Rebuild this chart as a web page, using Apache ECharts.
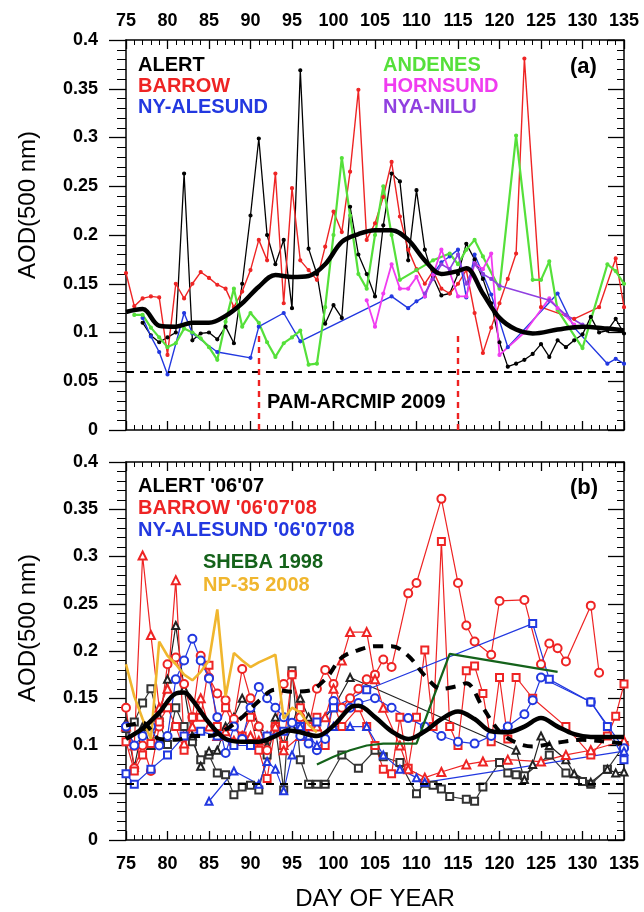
<!DOCTYPE html>
<html>
<head>
<meta charset="utf-8">
<title>AOD(500 nm)</title>
<script src="https://cdn.jsdelivr.net/npm/echarts@6/dist/echarts.min.js"></script>
<style>
html, body { margin: 0; padding: 0; background: #fff; }
#chart { width: 644px; height: 912px; }
</style>
</head>
<body>
<div id="chart"></div>
<script>
// 坐标范围
var dayMin = 75, dayMax = 135, dayStep = 5;
var aodMin = 0, aodMax = 0.4, aodStep = 0.05;
var refLevel = 0.06;
var campaignDays = [91, 115];
var campaignTop = 0.1;

// (a) 2009
var alertDays = [77,78,79,80,81,82,83,84,85,86,87,88,89,90,91,92,93,94,95,96,97,98,99,100,101,102,103,104,105,106,107,108,109,110,111,112,113,114,115,116,117,118,119,120,121,122,123,124,125,126,127,128,129,130,131,132,133,134,135];
var alertAod = [0.110,0.097,0.090,0.095,0.100,0.263,0.092,0.099,0.100,0.093,0.106,0.089,0.150,0.220,0.299,0.200,0.170,0.195,0.125,0.369,0.186,0.160,0.109,0.128,0.115,0.229,0.180,0.160,0.137,0.210,0.263,0.255,0.174,0.246,0.185,0.157,0.138,0.140,0.160,0.191,0.175,0.155,0.130,0.090,0.065,0.068,0.072,0.078,0.088,0.075,0.092,0.085,0.092,0.098,0.116,0.100,0.102,0.114,0.099];

var barrowDays = [75,76,77,78,79,80,81,82,83,84,85,86,87,88,89,90,91,92,93,94,95,96,97,98,99,100,101,102,103,104,105,106,107,108,109,110,111,112,113,114,115,116,117,118,119,120,121,122,123,125,129,132,134,135];
var barrowAod = [0.161,0.127,0.135,0.137,0.136,0.077,0.150,0.135,0.150,0.162,0.156,0.149,0.145,0.126,0.142,0.164,0.195,0.174,0.263,0.130,0.248,0.174,0.164,0.154,0.188,0.224,0.203,0.265,0.349,0.195,0.212,0.239,0.275,0.219,0.185,0.165,0.150,0.163,0.145,0.140,0.150,0.164,0.120,0.079,0.105,0.130,0.155,0.181,0.381,0.126,0.114,0.126,0.176,0.126];

var nyDays = [77,78,79,80,82,83,86,90,91,94,96,107,109,110,111,112,113,114,115,116,117,118,119,121,127,129,133,134,135];
var nyAod = [0.115,0.096,0.080,0.057,0.120,0.099,0.080,0.074,0.106,0.120,0.091,0.137,0.125,0.132,0.137,0.160,0.172,0.178,0.185,0.136,0.180,0.160,0.139,0.085,0.140,0.105,0.068,0.073,0.068];

var andenesDays = [76,77,78,79,80,81,82,83,84,85,86,87,88,89,90,91,92,93,94,95,96,97,98,99,100,101,102,103,104,105,106,107,108,110,112,114,115,116,117,118,120,122,124,125,126,127,130,133,134,135];
var andenesAod = [0.118,0.118,0.105,0.095,0.085,0.089,0.104,0.100,0.094,0.085,0.072,0.111,0.145,0.106,0.120,0.110,0.090,0.075,0.089,0.095,0.102,0.067,0.068,0.126,0.200,0.279,0.220,0.160,0.145,0.200,0.250,0.200,0.154,0.164,0.174,0.181,0.170,0.185,0.195,0.178,0.145,0.302,0.154,0.154,0.173,0.123,0.084,0.170,0.163,0.150];

var hornsundDays = [104,105,106,107,108,109,110,111,112,113,114,115,116,117,118,119,120,123,126,127,129];
var hornsundAod = [0.133,0.106,0.140,0.170,0.145,0.145,0.157,0.137,0.159,0.185,0.162,0.137,0.137,0.171,0.165,0.181,0.077,0.100,0.135,0.125,0.108];

var nyaNiluDays = [111,112,113,114,115,116,117,118,119,120,126,128,130];
var nyaNiluAod = [0.140,0.155,0.170,0.165,0.180,0.150,0.170,0.160,0.155,0.148,0.133,0.118,0.108];

var meanADays = [75,77,79,81,83,85,87,89,91,93,95,97,99,101,103,105,107,109,111,113,115,116,118,120,122,124,127,130,133,135];
var meanAAod = [0.121,0.124,0.107,0.106,0.110,0.110,0.117,0.130,0.147,0.159,0.157,0.158,0.170,0.193,0.201,0.205,0.205,0.195,0.174,0.160,0.163,0.166,0.140,0.115,0.103,0.099,0.103,0.106,0.104,0.102];

// (b) 其他年份
var meanBDays = [75,77,79,81,82,83,85,87,89,91,93,94.5,96,98,100,102,103,105,107,109,111,113,115,117,119,121,123,125,127,129,131,135];
var meanBAod = [0.107,0.118,0.135,0.155,0.156,0.148,0.124,0.107,0.104,0.104,0.110,0.116,0.114,0.110,0.121,0.140,0.142,0.130,0.115,0.107,0.115,0.128,0.136,0.128,0.115,0.114,0.120,0.129,0.120,0.112,0.109,0.109];

var alert06Days = [75,76,77,78,79,80,81,82,83,84,85,86,87,88,89,90,91,92,93,94,95,96,97,98,99,101,103,105,106,108,110,111,112,113,114,116,117,118,120,121,122,123,126,128,130,131,133,135];
var alert06Aod = [0.118,0.125,0.145,0.160,0.125,0.101,0.140,0.120,0.104,0.085,0.090,0.071,0.069,0.048,0.056,0.058,0.053,0.090,0.120,0.053,0.179,0.085,0.059,0.059,0.059,0.090,0.076,0.095,0.088,0.082,0.049,0.060,0.058,0.054,0.046,0.043,0.041,0.056,0.082,0.071,0.069,0.068,0.090,0.071,0.062,0.059,0.075,0.100];

var alert07Days = [75,76,77,78,79,80,81,82,83,84,85,86,87,88,89,90,91,92,93,94,95,96,97,98,100,102,122,123,124,125,126,128,129,131,133,134,135];
var alert07Aod = [0.124,0.077,0.120,0.100,0.130,0.170,0.227,0.160,0.110,0.078,0.094,0.095,0.120,0.130,0.150,0.140,0.120,0.100,0.130,0.100,0.120,0.150,0.130,0.120,0.140,0.172,0.095,0.064,0.080,0.110,0.100,0.085,0.070,0.061,0.075,0.071,0.072];

var barrow06Days = [75,76,77,78,79,80,81,82,83,84,85,86,87,88,89,90,91,92,93,94,95,96,97,98,99,100,101,102,103,104,105,106,107,109,110,113,115,116,117,119,120,123,125,126,127,128,131,132];
var barrow06Aod = [0.140,0.076,0.100,0.073,0.120,0.186,0.193,0.165,0.130,0.195,0.172,0.155,0.148,0.128,0.181,0.150,0.120,0.095,0.120,0.165,0.175,0.130,0.120,0.160,0.180,0.165,0.140,0.150,0.160,0.170,0.175,0.191,0.183,0.261,0.272,0.361,0.272,0.227,0.210,0.196,0.253,0.254,0.186,0.208,0.203,0.189,0.248,0.177];

var barrow07Days = [75,76,77,78,79,80,81,82,83,84,85,86,87,88,89,90,91,92,93,94,95,96,97,98,99,100,101,103,104,105,106,107,108,109,110,111,112,113,114,115,116,117,118,119,120,121,122,124,128,131,133,134,135];
var barrow07Aod = [0.104,0.073,0.090,0.102,0.125,0.140,0.120,0.095,0.130,0.130,0.185,0.120,0.140,0.120,0.110,0.130,0.095,0.065,0.120,0.100,0.175,0.140,0.120,0.130,0.100,0.145,0.120,0.140,0.120,0.100,0.075,0.070,0.130,0.076,0.130,0.201,0.120,0.316,0.120,0.100,0.179,0.184,0.155,0.104,0.172,0.107,0.172,0.150,0.120,0.090,0.110,0.131,0.165];

var barrow08Days = [75,76,77,78,79,80,81,82,83,84,85,86,87,88,89,90,91,92,93,94,96,98,99,100,101,102,104,105,106,108,109,111,113,116,118,121,125,128,131,135];
var barrow08Aod = [0.120,0.100,0.301,0.217,0.140,0.160,0.275,0.102,0.120,0.150,0.120,0.110,0.115,0.105,0.110,0.110,0.105,0.110,0.120,0.095,0.110,0.120,0.130,0.160,0.190,0.220,0.220,0.170,0.140,0.100,0.075,0.066,0.072,0.080,0.083,0.085,0.083,0.090,0.095,0.105];

var ny06Days = [75,76,77,78,79,80,81,82,83,84,85,86,87,88,89,90,91,92,93,94,95,96,97,98,99,100,102,103,105,107,109,111,113,115,117,119,121,123,124,125,131,135];
var ny06Aod = [0.120,0.100,0.110,0.120,0.100,0.110,0.170,0.190,0.213,0.190,0.171,0.130,0.092,0.120,0.107,0.140,0.162,0.150,0.140,0.130,0.124,0.110,0.102,0.095,0.107,0.147,0.140,0.145,0.150,0.140,0.129,0.120,0.110,0.104,0.102,0.110,0.120,0.133,0.148,0.172,0.146,0.097];

var ny07Days = [75,76,78,80,82,84,86,88,90,92,94,96,98,100,104,124,126,131,133,135];
var ny07Aod = [0.070,0.059,0.075,0.090,0.110,0.115,0.110,0.100,0.100,0.110,0.115,0.120,0.125,0.140,0.159,0.229,0.170,0.146,0.120,0.085];

var ny08Days = [85,88,91,92,93,94,95,96,97,98,100,102,104,106,108,110,111,135];
var ny08Aod = [0.041,0.073,0.059,0.083,0.075,0.052,0.090,0.120,0.110,0.100,0.120,0.120,0.120,0.090,0.075,0.066,0.061,0.094];

var shebaDays = [98,100,102,104,106,110,112,114,127];
var shebaAod = [0.080,0.088,0.095,0.100,0.102,0.102,0.150,0.197,0.178];

var np35Days = [75,76,77,78,79,80,81,82,83,84,85,86,87,88,89,90,91,92,93,94,95,96,97,98];
var np35Aod = [0.186,0.152,0.128,0.107,0.210,0.195,0.186,0.175,0.169,0.178,0.190,0.244,0.152,0.198,0.190,0.183,0.188,0.192,0.196,0.128,0.140,0.135,0.122,0.114];

var FONT = '"Liberation Sans", Arial, Helvetica, sans-serif';

function AodChart() {
    this.init();
}
AodChart.prototype = {
    constructor: AodChart,
    init: function () {
        var that = this;
        that.chart = echarts.init(document.getElementById('chart'), null, {renderer: 'canvas'});
        that.chart.setOption(that.buildOption());
    },
    pairs: function (days, vals) {
        var out = [];
        for (var i = 0; i < days.length; i++) {
            out.push([days[i], vals[i]]);
        }
        return out;
    },
    // 横轴
    dayAxis: function (grid, pos, showLabel, name) {
        return {
            type: 'value', gridIndex: grid, position: pos,
            min: dayMin, max: dayMax, interval: dayStep,
            name: name || '', nameLocation: 'middle', nameGap: 47,
            nameTextStyle: {color: '#000', fontSize: 24, fontFamily: FONT},
            axisLine: {onZero: false, lineStyle: {color: '#000', width: 1.5}},
            axisTick: {inside: true, length: 9, lineStyle: {color: '#000', width: 1.3}},
            minorTick: {show: true, splitNumber: 5, length: 5, lineStyle: {color: '#000', width: 1}},
            axisLabel: {show: showLabel, margin: pos == 'top' ? 10 : 15, color: '#000',
                fontSize: 18, fontWeight: 'bold', fontFamily: FONT},
            splitLine: {show: false}
        };
    },
    // 纵轴
    aodAxis: function (grid, pos) {
        var left = pos == 'left';
        return {
            type: 'value', gridIndex: grid, position: pos,
            min: aodMin, max: aodMax, interval: aodStep,
            axisLine: {show: true, lineStyle: {color: '#000', width: 1.5}},
            axisTick: {inside: !left, length: left ? 17 : 16, lineStyle: {color: '#000', width: 1.3}},
            minorTick: {show: true, splitNumber: 5, length: left ? 9 : 7, lineStyle: {color: '#000', width: 1}},
            axisLabel: {show: left, margin: 28, color: '#000', fontSize: 18, fontWeight: 'bold', fontFamily: FONT,
                formatter: function (v) { return String(+v.toFixed(2)); }},
            splitLine: {show: false}
        };
    },
    line: function (name, days, vals, color, grid, o) {
        o = o || {};
        return {
            name: name, type: 'line',
            xAxisIndex: grid * 2, yAxisIndex: grid * 2,
            data: this.pairs(days, vals),
            symbol: o.symbol || 'circle',
            symbolSize: o.size || 3,
            showSymbol: true,
            smooth: o.smooth || false,
            z: o.z || 2,
            lineStyle: {color: color, width: o.width || 1.4, type: o.dash || 'solid'},
            itemStyle: {color: color, borderColor: color, borderWidth: 1.2},
            markLine: o.markLine,
            animation: false
        };
    },
    text: function (str, x, y, color, size, extra) {
        var el = {
            type: 'text', x: x, y: y, z: 50,
            style: {text: str, fill: color, font: 'bold ' + size + 'px ' + FONT,
                textAlign: 'left', textVerticalAlign: 'middle', verticalAlign: 'middle'}
        };
        if (extra) {
            for (var k in extra) { el[k] = extra[k]; }
        }
        return el;
    },
    buildOption: function () {
        var that = this;
        var refLine = function (extra) {
            var data = [{yAxis: refLevel, lineStyle: {color: '#000', width: 1.8, type: [8, 6]}}];
            if (extra) { data = data.concat(extra); }
            return {silent: true, symbol: ['none', 'none'], label: {show: false}, data: data};
        };
        var campaign = [];
        for (var i = 0; i < campaignDays.length; i++) {
            campaign.push([
                {coord: [campaignDays[i], aodMin], lineStyle: {color: '#ee2222', width: 2.4, type: [6, 5]}},
                {coord: [campaignDays[i], campaignTop]}
            ]);
        }

        var red = '#ee2424', blue = '#2238e0', green = '#55e03a', magenta = '#f03cf0', purple = '#9040e0';
        var sheba = '#14621a', np35 = '#f0b62e';

        var series = [
            that.line('ALERT', alertDays, alertAod, '#000', 0, {width: 1.3}),
            that.line('BARROW', barrowDays, barrowAod, red, 0, {markLine: refLine(campaign)}),
            that.line('NY-ALESUND', nyDays, nyAod, blue, 0),
            that.line('ANDENES', andenesDays, andenesAod, green, 0, {width: 2.2}),
            that.line('HORNSUND', hornsundDays, hornsundAod, magenta, 0, {width: 1.8}),
            that.line('NYA-NILU', nyaNiluDays, nyaNiluAod, purple, 0, {width: 1.6}),
            that.line('mean 2009', meanADays, meanAAod, '#000', 0, {symbol: 'none', width: 4.5, smooth: 0.35, z: 10}),

            that.line("ALERT '06", alert06Days, alert06Aod, '#333', 1, {symbol: 'emptyRect', size: 7, width: 1.2, markLine: refLine()}),
            that.line("ALERT '07", alert07Days, alert07Aod, '#222', 1, {symbol: 'emptyTriangle', size: 7, width: 1.2}),
            that.line("BARROW '06", barrow06Days, barrow06Aod, red, 1, {symbol: 'emptyCircle', size: 8, width: 1.2}),
            that.line("BARROW '07", barrow07Days, barrow07Aod, red, 1, {symbol: 'emptyRect', size: 7, width: 1.2}),
            that.line("BARROW '08", barrow08Days, barrow08Aod, red, 1, {symbol: 'emptyTriangle', size: 8, width: 1.2}),
            that.line("NY-ALESUND '06", ny06Days, ny06Aod, blue, 1, {symbol: 'emptyCircle', size: 8, width: 1.2}),
            that.line("NY-ALESUND '07", ny07Days, ny07Aod, blue, 1, {symbol: 'emptyRect', size: 7, width: 1.2}),
            that.line("NY-ALESUND '08", ny08Days, ny08Aod, blue, 1, {symbol: 'emptyTriangle', size: 7, width: 1.2}),
            that.line('SHEBA 1998', shebaDays, shebaAod, sheba, 1, {symbol: 'none', width: 2.2, z: 4}),
            that.line('NP-35 2008', np35Days, np35Aod, np35, 1, {symbol: 'none', width: 2.6, z: 4}),
            that.line('mean 2009 (b)', meanADays, meanAAod, '#000', 1, {symbol: 'none', width: 4, smooth: 0.35, dash: [10, 8], z: 10}),
            that.line('mean other years', meanBDays, meanBAod, '#000', 1, {symbol: 'none', width: 4.5, smooth: 0.35, z: 11})
        ];

        var graphic = [
            that.text('ALERT', 138, 65, '#000', 20),
            that.text('BARROW', 138, 86, red, 20),
            that.text('NY-ALESUND', 138, 107, blue, 20),
            that.text('ANDENES', 383, 65, green, 20),
            that.text('HORNSUND', 383, 86, magenta, 20),
            that.text('NYA-NILU', 383, 107, purple, 20),
            that.text('(a)', 570, 67, '#000', 22),
            that.text('PAM-ARCMIP 2009', 267, 402, '#000', 20),
            that.text("ALERT '06'07", 138, 486, '#000', 20),
            that.text("BARROW '06'07'08", 138, 508, red, 20),
            that.text("NY-ALESUND '06'07'08", 138, 530, blue, 20),
            that.text('SHEBA 1998', 203, 562, sheba, 20),
            that.text('NP-35 2008', 203, 585, np35, 20),
            that.text('(b)', 570, 488, '#000', 22),
            {type: 'text', x: 28, y: 205, rotation: Math.PI / 2, z: 50,
                style: {text: 'AOD(500 nm)', fill: '#000', font: '24px ' + FONT, textAlign: 'center', textVerticalAlign: 'middle', verticalAlign: 'middle'}},
            {type: 'text', x: 28, y: 628, rotation: Math.PI / 2, z: 50,
                style: {text: 'AOD(500 nm)', fill: '#000', font: '24px ' + FONT, textAlign: 'center', textVerticalAlign: 'middle', verticalAlign: 'middle'}}
        ];

        return {
            backgroundColor: '#fff',
            animation: false,
            grid: [
                {left: 126, top: 40, width: 498, height: 390},
                {left: 126, top: 462, width: 498, height: 389}
            ],
            xAxis: [
                that.dayAxis(0, 'bottom', false),
                that.dayAxis(0, 'top', true),
                that.dayAxis(1, 'bottom', true, 'DAY OF YEAR'),
                that.dayAxis(1, 'top', false)
            ],
            yAxis: [
                that.aodAxis(0, 'left'),
                that.aodAxis(0, 'right'),
                that.aodAxis(1, 'left'),
                that.aodAxis(1, 'right')
            ],
            series: series,
            graphic: graphic
        };
    }
};

var AodChartIns = new AodChart();
</script>
</body>
</html>
